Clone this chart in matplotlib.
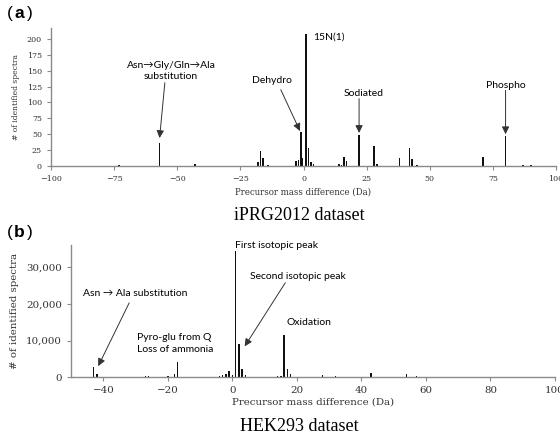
import matplotlib
matplotlib.use("Agg")
import matplotlib.pyplot as plt

# panel (a): iPRG2012
mass_a = [-73, -57, -43, -18, -17, -16, -14, -3, -2, -1, -0.5, 1, 2, 3, 4,
          14, 15, 16, 17, 22, 28, 29, 38, 42, 43, 45, 71, 80, 87, 90]
count_a = [1, 36, 4, 6, 23, 12, 2, 8, 9, 53, 12, 208, 29, 7, 4,
           4, 2, 15, 8, 49, 31, 4, 12, 29, 11, 2, 15, 47, 1, 1]

# panel (b): HEK293
mass_b = [-43, -42, -27, -26, -20, -18, -17, -12, -9, -6, -4, -3, -2, -1, 0,
          1, 2, 3, 4, 14, 15, 16, 17, 18, 28, 32, 43, 54, 57]
count_b = [2900, 800, 200, 200, 200, 800, 4000, 100, 100, 150, 300, 500, 900, 1600, 700,
           34600, 9000, 2300, 600, 300, 300, 11600, 2300, 800, 700, 200, 1200, 800, 300]

serif = "DejaVu Serif"
sans = "Lato"
spine_col = "#8a8a8a"

fig = plt.figure(figsize=(5.6, 4.37), dpi=100)
ax1 = fig.add_axes([0.091, 0.620, 0.902, 0.316])
ax2 = fig.add_axes([0.127, 0.137, 0.864, 0.303])


def style(ax, fs):
    for s in ["top", "right"]:
        ax.spines[s].set_visible(False)
    for s in ["left", "bottom"]:
        ax.spines[s].set_color(spine_col)
        ax.spines[s].set_linewidth(1.0)
    ax.tick_params(colors=spine_col, labelcolor="#333333", labelsize=fs, length=3)
    for lab in ax.get_xticklabels() + ax.get_yticklabels():
        lab.set_family(serif)


arrow = dict(arrowstyle="-|>,head_length=0.45,head_width=0.22", color="#333333", lw=0.7,
             shrinkA=0, shrinkB=0)
afs = 7.5

# ---- (a)
ax1.bar(mass_a, count_a, width=0.6, color="#111111")
ax1.set_xlim(-100, 100)
ax1.set_ylim(0, 217)
ax1.set_xticks([-100, -75, -50, -25, 0, 25, 50, 75, 100])
ax1.set_yticks(range(0, 201, 25))
style(ax1, 5.8)
ax1.set_xlabel("Precursor mass difference (Da)", family=serif, fontsize=6.2, color="#333333", labelpad=3)
ax1.set_ylabel("# of identified spectra", family=serif, fontsize=5.5, color="#333333", labelpad=5)

ax1.text(-52.5, 149, "Asn\u2192Gly/Gln\u2192Ala\nsubstitution", ha="center", va="center",
         fontsize=afs, family=[sans, "DejaVu Sans"], linespacing=1.3)
ax1.annotate("", xy=(-57, 44), xytext=(-54.9, 131), arrowprops=arrow)
ax1.text(-12.5, 135, "Dehydro", ha="center", va="center", fontsize=afs, family=sans)
ax1.annotate("", xy=(-1.4, 55), xytext=(-9, 120), arrowprops=arrow)
ax1.text(4, 202, "15N(1)", ha="left", va="center", fontsize=afs, family=sans)
ax1.text(23.8, 114, "Sodiated", ha="center", va="center", fontsize=afs, family=sans)
ax1.annotate("", xy=(22, 52), xytext=(22, 106), arrowprops=arrow)
ax1.text(80, 127, "Phospho", ha="center", va="center", fontsize=afs, family=sans)
ax1.annotate("", xy=(80, 50), xytext=(80, 119), arrowprops=arrow)

# ---- (b)
ax2.bar(mass_b, count_b, width=0.45, color="#111111")
ax2.set_xlim(-50, 100)
ax2.set_ylim(0, 36200)
ax2.set_xticks([-40, -20, 0, 20, 40, 60, 80, 100])
ax2.set_yticks([0, 10000, 20000, 30000])
ax2.set_yticklabels(["0", "10,000", "20,000", "30,000"])
style(ax2, 7.4)
ax2.set_xlabel("Precursor mass difference (Da)", family=serif, fontsize=7.4, color="#333333", labelpad=2)
ax2.set_ylabel("# of identified spectra", family=serif, fontsize=7.4, color="#333333", labelpad=5)

ax2.text(-30, 22800, "Asn \u2192 Ala substitution", ha="center", va="center",
         fontsize=afs, family=[sans, "DejaVu Sans"])
ax2.annotate("", xy=(-41.6, 3000), xytext=(-32, 20300), arrowprops=arrow)
ax2.text(-29.7, 9300, "Pyro-glu from Q\nLoss of ammonia", ha="left", va="center",
         fontsize=afs, family=sans, linespacing=1.45)
ax2.text(0.9, 36000, "First isotopic peak", ha="left", va="center", fontsize=afs, family=sans)
ax2.text(5.6, 27500, "Second isotopic peak", ha="left", va="center", fontsize=afs, family=sans)
ax2.annotate("", xy=(3.8, 8400), xytext=(16.4, 25800), arrowprops=arrow)
ax2.text(16.9, 14800, "Oxidation", ha="left", va="center", fontsize=afs, family=sans)

# panel letters and titles
for y, letter in [(0.968, "a"), (0.468, "b")]:
    fig.text(0.012, y, "(", fontsize=12.5, family="Liberation Sans", va="center")
    fig.text(0.0255, y, letter, fontsize=12.5, family="Liberation Sans", weight="bold", va="center")
    fig.text(0.0485, y, ")", fontsize=12.5, family="Liberation Sans", va="center")

fig.text(0.535, 0.506, "iPRG2012 dataset", ha="center", va="center", fontsize=13,
         family="Liberation Serif")
fig.text(0.535, 0.024, "HEK293 dataset", ha="center", va="center", fontsize=13,
         family="Liberation Serif")

fig.savefig("out.png", dpi=100)
